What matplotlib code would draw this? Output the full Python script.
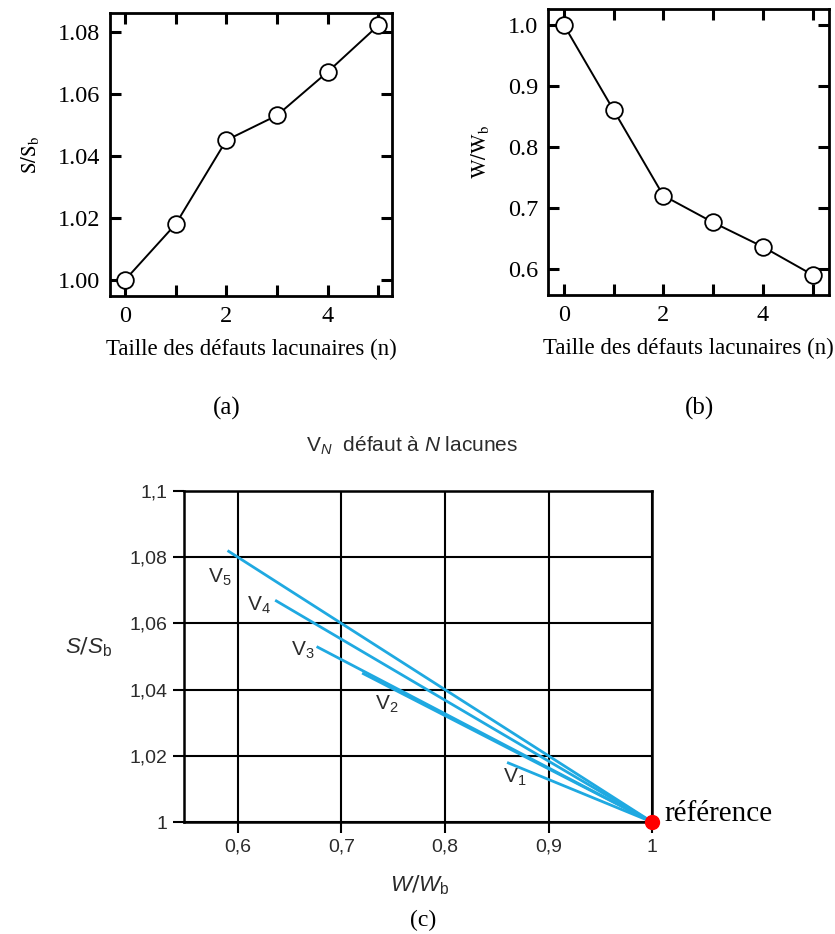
import numpy as np
import matplotlib
matplotlib.use("Agg")
import matplotlib.pyplot as plt
from matplotlib.ticker import FixedLocator, FormatStrFormatter

plt.rcParams['mathtext.fontset'] = 'custom'
plt.rcParams['mathtext.rm'] = 'Liberation Sans'
plt.rcParams['mathtext.it'] = 'Liberation Sans:italic'
plt.rcParams['mathtext.bf'] = 'Liberation Sans:bold'

# data
n = [0, 1, 2, 3, 4, 5]
S_rel = [1.000, 1.018, 1.045, 1.053, 1.067, 1.082]   # S/Sb
W_rel = [1.000, 0.860, 0.720, 0.676, 0.636, 0.590]   # W/Wb
v_labels = ["V$_1$", "V$_2$", "V$_3$", "V$_4$", "V$_5$"]
v_label_pos = [(0.867, 1.0135), (0.744, 1.0355), (0.663, 1.052), (0.620, 1.0655), (0.583, 1.074)]
c_xticks = [0.6, 0.7, 0.8, 0.9, 1.0]
c_xticklabels = ["0,6", "0,7", "0,8", "0,9", "1"]
c_yticks = [1.0, 1.02, 1.04, 1.06, 1.08, 1.1]
c_yticklabels = ["1", "1,02", "1,04", "1,06", "1,08", "1,1"]

serif = 'Liberation Serif'
sans = 'Liberation Sans'
blue = '#1fa9e1'
grey = '#2b2b2b'

fig = plt.figure(figsize=(8.35, 9.34), dpi=100)

def small_panel(ax, y, ylab, yticks, fmt):
    ax.plot(n, y, color='black', lw=1.4, marker='o', ms=12,
            mfc='white', mec='black', mew=1.3, clip_on=False, zorder=3)
    ax.xaxis.set_major_locator(FixedLocator([0, 2, 4]))
    ax.xaxis.set_minor_locator(FixedLocator([1, 3, 5]))
    ax.yaxis.set_major_locator(FixedLocator(yticks))
    ax.yaxis.set_major_formatter(FormatStrFormatter(fmt))
    ax.tick_params(which='both', direction='in', top=True, right=True,
                   length=8, width=2.2, labelsize=17.5, pad=7)
    for lab in ax.get_xticklabels() + ax.get_yticklabels():
        lab.set_fontfamily(serif)
    for s in ax.spines.values():
        s.set_linewidth(2)
    ax.set_xlabel("Taille des défauts lacunaires (n)", fontfamily=serif,
                  fontsize=16.5, labelpad=9)
    ax.set_ylabel(ylab, fontfamily=serif, fontsize=15, math_fontfamily='stix', labelpad=12)

# (a)
axa = fig.add_axes([0.1317, 0.6831, 0.3377, 0.303])
small_panel(axa, S_rel, r"$\mathrm{S/S_b}$", [1.00, 1.02, 1.04, 1.06, 1.08], '%.2f')
axa.set_xlim(-0.3, 5.27)
axa.set_ylim(0.9948, 1.086)

# (b)
axb = fig.add_axes([0.6563, 0.6842, 0.3365, 0.306])
small_panel(axb, W_rel, r"$\mathrm{W/W_b}$", [0.6, 0.7, 0.8, 0.9, 1.0], '%.1f')
axb.set_xlim(-0.32, 5.33)
axb.set_ylim(0.557, 1.026)

fig.text(227/835, 1 - 408/934, "(a)", fontfamily=serif, fontsize=18, ha='center', va='center')
fig.text(700/835, 1 - 408/934, "(b)", fontfamily=serif, fontsize=18, ha='center', va='center')

# (c)
axc = fig.add_axes([0.2204, 0.1199, 0.5605, 0.3544])
for w, s in zip(W_rel[1:], S_rel[1:]):
    axc.plot([w, 1.0], [s, 1.0], color=blue, lw=2.0, solid_capstyle='butt', zorder=3)
axc.plot([1.0], [1.0], marker='o', ms=10, color='red', clip_on=False, zorder=4)
for lab, (x, y) in zip(v_labels, v_label_pos):
    axc.text(x, y, lab, fontfamily=sans, fontsize=15, color=grey, ha='center', va='center')
axc.annotate("référence", xy=(1.0, 1.0), xytext=(9, 6), textcoords='offset points',
             fontfamily=serif, fontsize=21, color='black', ha='left', va='center',
             annotation_clip=False)

axc.set_xlim(0.548, 1.0)
axc.set_ylim(1.0, 1.1)
axc.set_xticks(c_xticks)
axc.set_xticklabels(c_xticklabels)
axc.set_yticks(c_yticks)
axc.set_yticklabels(c_yticklabels)
axc.tick_params(direction='out', length=8, width=1.5, labelsize=14,
                labelcolor=grey, pad=4)
for lab in axc.get_xticklabels() + axc.get_yticklabels():
    lab.set_fontfamily(sans)
axc.grid(True, color='black', lw=1.5)
axc.set_axisbelow(True)
for s in axc.spines.values():
    s.set_linewidth(1.8)

axc.text(-0.205, 0.529, r"$S$/$S_\mathrm{b}$", transform=axc.transAxes,
         fontsize=16, color=grey, ha='center', va='center')
axc.text(0.504, -0.19, r"$W$/$W_\mathrm{b}$", transform=axc.transAxes,
         fontsize=16, color=grey, ha='center', va='center')
fig.text(412/835, 1 - 446/934, r"V$_{N}$  défaut à $N$ lacunes", fontfamily=sans,
         fontsize=15, color=grey, ha='center', va='center')
fig.text(423/835, 1 - 920/934, "(c)", fontfamily=serif, fontsize=17, ha='center', va='center')

fig.savefig("out.png", dpi=100)
